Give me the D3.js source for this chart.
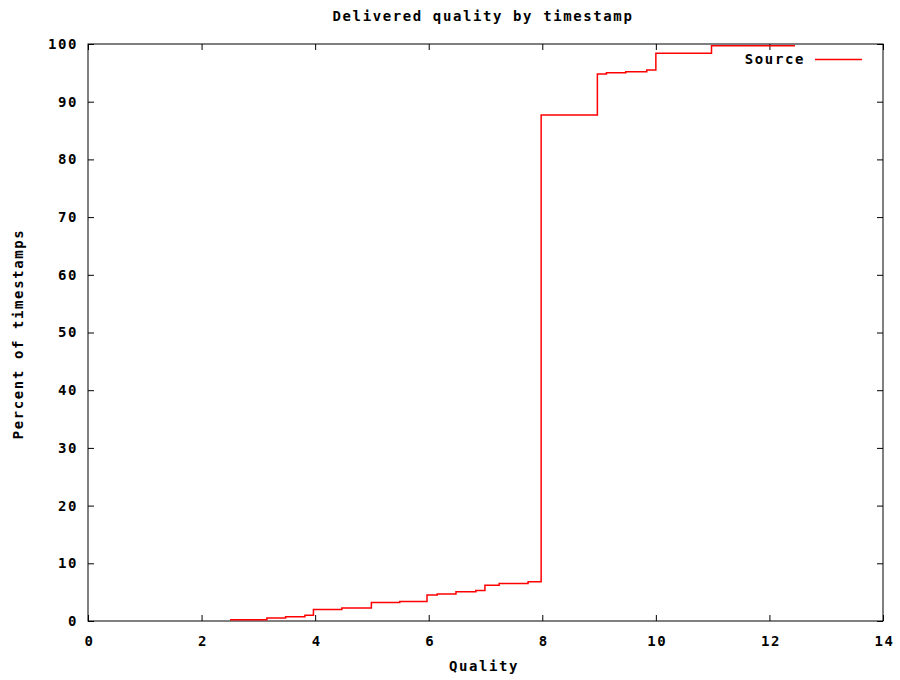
<!DOCTYPE html>
<html>
<head>
  <title>Delivered quality by timestamp</title>
  <style>
    body { margin: 0; background: #fff; }
    text { font-family: "DejaVu Sans Mono", "Liberation Mono", monospace; font-weight: bold; font-size: 14px; letter-spacing: 1.6px; fill: #000; }
  </style>
</head>
<body>
  <script src="https://cdn.jsdelivr.net/npm/d3@7"></script>
  <script>
    // step points: quality where the step starts, percent of timestamps held from there
    var quality = [2.5, 3.15, 3.48, 3.82, 3.97, 4.47, 4.99, 5.49, 5.97, 6.15, 6.48, 6.83, 6.99, 7.24, 7.75, 7.98, 8.97, 9.13, 9.47, 9.84, 10.0, 10.98, 12.45];
    var percent = [0.2, 0.5, 0.75, 1.0, 2.0, 2.25, 3.2, 3.4, 4.5, 4.7, 5.05, 5.3, 6.2, 6.5, 6.8, 87.7, 94.8, 95.0, 95.2, 95.5, 98.4, 99.7, 99.7];
    var xTicks = [0, 2, 4, 6, 8, 10, 12, 14];
    var yTicks = [0, 10, 20, 30, 40, 50, 60, 70, 80, 90, 100];

    var data = quality.map(function (q, i) { return { q: q, p: percent[i] }; });

    var w = 900, h = 680;
    var margin = { top: 44, right: 17, bottom: 59, left: 88 };
    var iw = w - margin.left - margin.right;
    var ih = h - margin.top - margin.bottom;

    var svg = d3.select("body").append("svg")
        .attr("width", w)
        .attr("height", h);

    svg.append("rect").attr("width", w).attr("height", h).attr("fill", "#fff");

    var g = svg.append("g")
        .attr("transform", "translate(" + margin.left + "," + margin.top + ")");

    var x = d3.scaleLinear().domain([0, 14]).range([0, iw]);
    var y = d3.scaleLinear().domain([0, 100]).range([ih, 0]);

    // axes with inward ticks, mirrored on top and right
    var xAxis = g.append("g")
        .attr("transform", "translate(0," + ih + ")")
        .call(d3.axisBottom(x).tickValues(xTicks).tickSize(-6).tickPadding(15));
    var yAxis = g.append("g")
        .call(d3.axisLeft(y).tickValues(yTicks).tickSize(-6).tickPadding(10));
    var xTop = g.append("g")
        .call(d3.axisTop(x).tickValues(xTicks).tickSize(-6).tickFormat(""));
    var yRight = g.append("g")
        .attr("transform", "translate(" + iw + ",0)")
        .call(d3.axisRight(y).tickValues(yTicks).tickSize(-6).tickFormat(""));

    [xAxis, yAxis, xTop, yRight].forEach(function (a) {
      a.select(".domain").remove();
      a.selectAll("line").attr("stroke", "#000");
      a.selectAll("text").attr("font-family", null).attr("font-size", null);
    });
    xAxis.selectAll("text").attr("dx", "1px");

    g.append("rect")
        .attr("width", iw)
        .attr("height", ih)
        .attr("fill", "none")
        .attr("stroke", "#000")
        .attr("stroke-width", 1);

    var line = d3.line()
        .x(function (d) { return x(d.q); })
        .y(function (d) { return y(d.p); })
        .curve(d3.curveStepAfter);

    g.append("path")
        .datum(data)
        .attr("d", line)
        .attr("fill", "none")
        .attr("stroke", "#ff0000")
        .attr("stroke-width", 1.5);

    // legend
    svg.append("text")
        .attr("x", 805)
        .attr("y", 64)
        .attr("text-anchor", "end")
        .text("Source");
    svg.append("line")
        .attr("x1", 815).attr("x2", 862)
        .attr("y1", 59.5).attr("y2", 59.5)
        .attr("stroke", "#ff0000")
        .attr("stroke-width", 1.5);

    svg.append("text")
        .attr("x", 483)
        .attr("y", 21)
        .attr("text-anchor", "middle")
        .text("Delivered quality by timestamp");

    svg.append("text")
        .attr("x", 484)
        .attr("y", 671)
        .attr("text-anchor", "middle")
        .text("Quality");

    svg.append("text")
        .attr("transform", "translate(23,334) rotate(-90)")
        .attr("text-anchor", "middle")
        .text("Percent of timestamps");
  </script>
</body>
</html>
